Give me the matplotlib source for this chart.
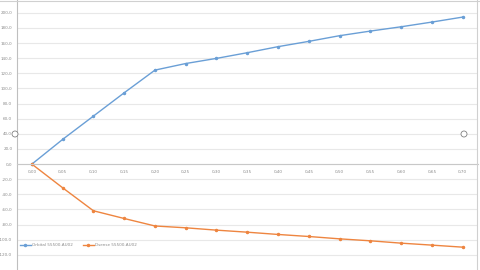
import matplotlib
matplotlib.use('Agg')
import matplotlib.pyplot as plt
from matplotlib.patches import Ellipse

# categories on the x axis
xLabels = ['0,00', '0,05', '0,10', '0,15', '0,20', '0,25', '0,30', '0,35',
           '0,40', '0,45', '0,50', '0,55', '0,60', '0,65', '0,70']
# series values
blueVals = [0, 32.7, 63.5, 94.3, 124.3, 133, 139.8, 147.3,
            155.3, 162.3, 169.8, 175.9, 181.6, 187.8, 194.4]
orangeVals = [0, -31.3, -61.7, -71.9, -81.8, -84.2, -87.3, -90,
              -93, -95.7, -98.8, -101.4, -104.5, -107.1, -109.8]
seriesNames = ['Orbital 55500-AU02', 'Dsense 55500-AU02']
yTicks = list(range(-120, 201, 20))

blue = '#6A9FD6'
orange = '#EE8540'
gridCol = '#E8E8E8'
textCol = '#8C8C8C'

fig = plt.figure(figsize=(4.8, 2.7), dpi=100)
ax = fig.add_axes([16.5/480, 0, (478-16.5)/480, 1])

xs = list(range(len(xLabels)))
ax.plot(xs, blueVals, color=blue, lw=1.0, marker='o', ms=1.5, label=seriesNames[0])
ax.plot(xs, orangeVals, color=orange, lw=1.0, marker='o', ms=1.5, label=seriesNames[1])

ax.set_xlim(-0.5, 14.5)
ax.set_ylim(-140, 217)

ax.set_yticks(yTicks)
ax.set_yticklabels([('%.1f' % v).replace('.', ',') for v in yTicks])
ax.set_xticks(xs)
ax.set_xticklabels(xLabels)
ax.tick_params(length=0, labelsize=3, labelcolor=textCol, pad=3)
ax.tick_params(axis='x', pad=4)

ax.grid(axis='y', color=gridCol, lw=0.8)
ax.set_axisbelow(True)
for s in ['top', 'right']:
    ax.spines[s].set_visible(False)
ax.spines['left'].set_color('#BFBFBF')
ax.spines['left'].set_linewidth(0.8)
ax.spines['bottom'].set_position(('data', 0))
ax.spines['bottom'].set_color('#C8C8C8')
ax.spines['bottom'].set_linewidth(0.8)

leg = ax.legend(loc='lower left', bbox_to_anchor=(0.0, 0.07), ncol=2, frameon=False,
                fontsize=3, handlelength=2.5, columnspacing=2.5, handletextpad=0.3)
for t in leg.get_texts():
    t.set_color(textCol)

# chart border and selection handles from the screenshot
fig.add_artist(plt.Line2D([0, 1], [0.998, 0.998], color='#D0D0D0', lw=0.8, transform=fig.transFigure))
fig.add_artist(plt.Line2D([477/480, 477/480], [0, 1], color='#D0D0D0', lw=0.8, transform=fig.transFigure))
for hx in [15/480, 464/480]:
    fig.add_artist(Ellipse((hx, 1 - 134/270), 6/480, 6/270, transform=fig.transFigure,
                           facecolor='white', edgecolor='#808080', lw=0.6))

fig.savefig('out.png', dpi=100)
